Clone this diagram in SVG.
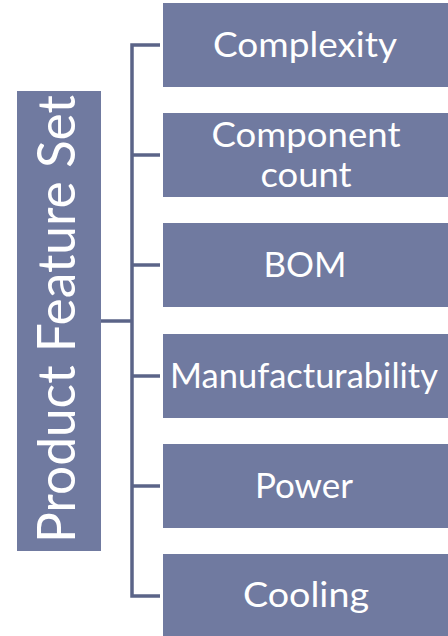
<svg xmlns="http://www.w3.org/2000/svg" width="448" height="636" viewBox="0 0 448 636">
<style>
.box{fill:#707AA0}
.lbl{font-family:Lato,"Open Sans","Liberation Sans",sans-serif;font-size:35px;fill:#FFFFFF;text-anchor:middle}
.conn{fill:none;stroke:#5B6488;stroke-width:3.5;stroke-linejoin:miter}
</style>
<rect width="448" height="636" fill="#FFFFFF"/>
<g id="connectors">
<path class="conn" d="M101,321 H132"/>
<path class="conn" d="M160,45 H132 V596 H160"/>
<path class="conn" d="M132,155 H160"/>
<path class="conn" d="M132,265 H160"/>
<path class="conn" d="M132,376 H160"/>
<path class="conn" d="M132,486 H160"/>
</g>
<g id="root">
<rect class="box" x="17" y="91" width="84" height="460"/>
<text class="lbl" style="font-size:52px" transform="translate(75,319) rotate(-90)" textLength="448" lengthAdjust="spacingAndGlyphs">Product Feature Set</text>
</g>
<g id="complexity">
<rect class="box" x="163" y="3" width="285" height="84"/>
<text class="lbl" x="305" y="57" textLength="184" lengthAdjust="spacingAndGlyphs">Complexity</text>
</g>
<g id="component-count">
<rect class="box" x="163" y="113" width="285" height="84"/>
<text class="lbl" x="306" y="147" textLength="189" lengthAdjust="spacingAndGlyphs">Component</text>
<text class="lbl" x="306" y="187" textLength="91" lengthAdjust="spacingAndGlyphs">count</text>
</g>
<g id="bom">
<rect class="box" x="163" y="223" width="285" height="84"/>
<text class="lbl" x="305" y="277" textLength="83" lengthAdjust="spacingAndGlyphs">BOM</text>
</g>
<g id="manufacturability">
<rect class="box" x="163" y="334" width="285" height="84"/>
<text class="lbl" x="304" y="388" textLength="268" lengthAdjust="spacingAndGlyphs">Manufacturability</text>
</g>
<g id="power">
<rect class="box" x="163" y="444" width="285" height="84"/>
<text class="lbl" x="304" y="498" textLength="98" lengthAdjust="spacingAndGlyphs">Power</text>
</g>
<g id="cooling">
<rect class="box" x="163" y="554" width="285" height="84"/>
<text class="lbl" x="306" y="607" textLength="126" lengthAdjust="spacingAndGlyphs">Cooling</text>
</g>
</svg>
